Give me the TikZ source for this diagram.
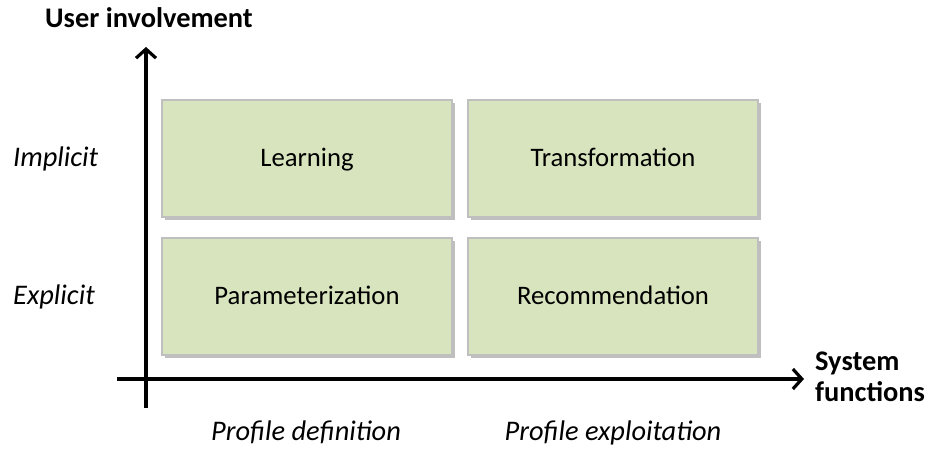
\documentclass[tikz,border=0pt]{standalone}
\usepackage{fontspec}
\setmainfont{Carlito}
\usetikzlibrary{shadows,arrows.meta}
\definecolor{boxfill}{HTML}{D7E4BD}
\definecolor{boxedge}{HTML}{BFBFBF}
\begin{document}
\begin{tikzpicture}[x=1bp,y=-1bp,
  cell/.style={draw=boxedge,line width=1.2bp,fill=boxfill,minimum width=290bp,minimum height=117bp,inner sep=0pt,font=\fontsize{26.8}{30}\selectfont,
    text height=17bp,text depth=0bp,
    drop shadow={shadow xshift=2.5bp,shadow yshift=-3bp,fill=black,opacity=0.25}},
  axis/.style={line width=3.2bp,-{Straight Barb[length=9bp,width=20bp,line width=3.2bp]}},
  lab/.style={font=\fontsize{28.5}{32}\selectfont\itshape,inner sep=0pt},
  blab/.style={font=\fontsize{28.5}{31}\selectfont\bfseries,inner sep=0pt,align=left}]
\useasboundingbox (0,0) rectangle (931,449);
\node[cell] (learn) at (307,158.5) {Learning};
\node[cell] (trans) at (613,158.5) {Transformation};
\node[cell] (param) at (307,296.5) {Parameterization};
\node[cell] (recom) at (613,296.5) {Recommendation};
\coordinate (vb) at (146,408);
\coordinate (vt) at (146,47);
\coordinate (hl) at (117,379);
\coordinate (hr) at (804,379);
\draw[axis] (vb) -- (vt);
\draw[axis] (hl) -- (hr);
\node[blab,anchor=base west] (uinv) at (45,28) {User involvement};
\node[lab,anchor=base west] (impl) at (13,167) {Implicit};
\node[lab,anchor=base west] (expl) at (13,305) {Explicit};
\node[lab,anchor=base] (pdef) at (306,440) {Profile definition};
\node[lab,anchor=base] (pexp) at (613,440) {Profile exploitation};
\node[blab,anchor=west] (sysf) at (815,377) {System\\functions};
\end{tikzpicture}
\end{document}
